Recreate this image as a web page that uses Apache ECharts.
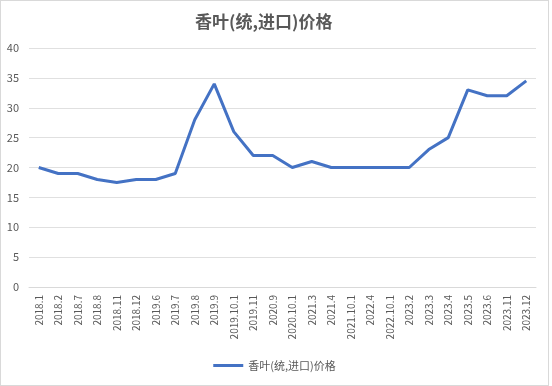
<!DOCTYPE html>
<html><head><meta charset="utf-8">
<script src="https://cdn.jsdelivr.net/npm/echarts@6/dist/echarts.min.js"></script>
<style>
html,body{margin:0;padding:0;background:#fff;}
#c{width:549px;height:386px;box-sizing:border-box;border:1px solid #d9d9d9;}
</style></head>
<body><div id="c"></div>
<script>
const categories = ["2018.1","2018.2","2018.7","2018.8","2018.11","2018.12","2019.6","2019.7","2019.8","2019.9","2019.10.1","2019.11","2020.9","2020.10.1","2021.3","2021.4","2021.10.1","2022.4","2022.10.1","2023.2","2023.3","2023.4","2023.5","2023.6","2023.11","2023.12"];
const values = [20,19,19,18,17.5,18,18,19,28,34,26,22,22,20,21,20,20,20,20,20,23,25,33,32,32,34.5];
const seriesName = "香叶(统,进口)价格";
const yTicks = {min:0,max:40,interval:5};

const chart = echarts.init(document.getElementById('c'));
const font = '"Noto Sans CJK SC","Liberation Sans",sans-serif';
chart.setOption({
  animation:false,
  textStyle:{fontFamily:font},
  title:{text:seriesName,left:189,top:7,textStyle:{fontSize:17,fontWeight:'bold',color:'#595959',fontFamily:font}},
  legend:{bottom:9,left:'center',itemWidth:30,itemHeight:3,icon:'rect',textStyle:{fontSize:11,color:'#595959'},data:[seriesName]},
  grid:{left:28,right:12,top:47,bottom:98,containLabel:false},
  xAxis:{type:'category',data:categories,boundaryGap:true,
    axisLine:{lineStyle:{color:'#d9d9d9'}},axisTick:{show:false},
    axisLabel:{rotate:90,color:'#595959',fontSize:10,margin:8,interval:0}},
  yAxis:{type:'value',min:yTicks.min,max:yTicks.max,interval:yTicks.interval,
    axisLine:{show:false},axisTick:{show:false},
    splitLine:{lineStyle:{color:'#e0e0e0'}},
    axisLabel:{color:'#595959',fontSize:11,margin:10}},
  series:[{name:seriesName,type:'line',data:values,showSymbol:false,symbol:'none',
    lineStyle:{color:'#4472C4',width:3},itemStyle:{color:'#4472C4'}}]
});
</script></body></html>
